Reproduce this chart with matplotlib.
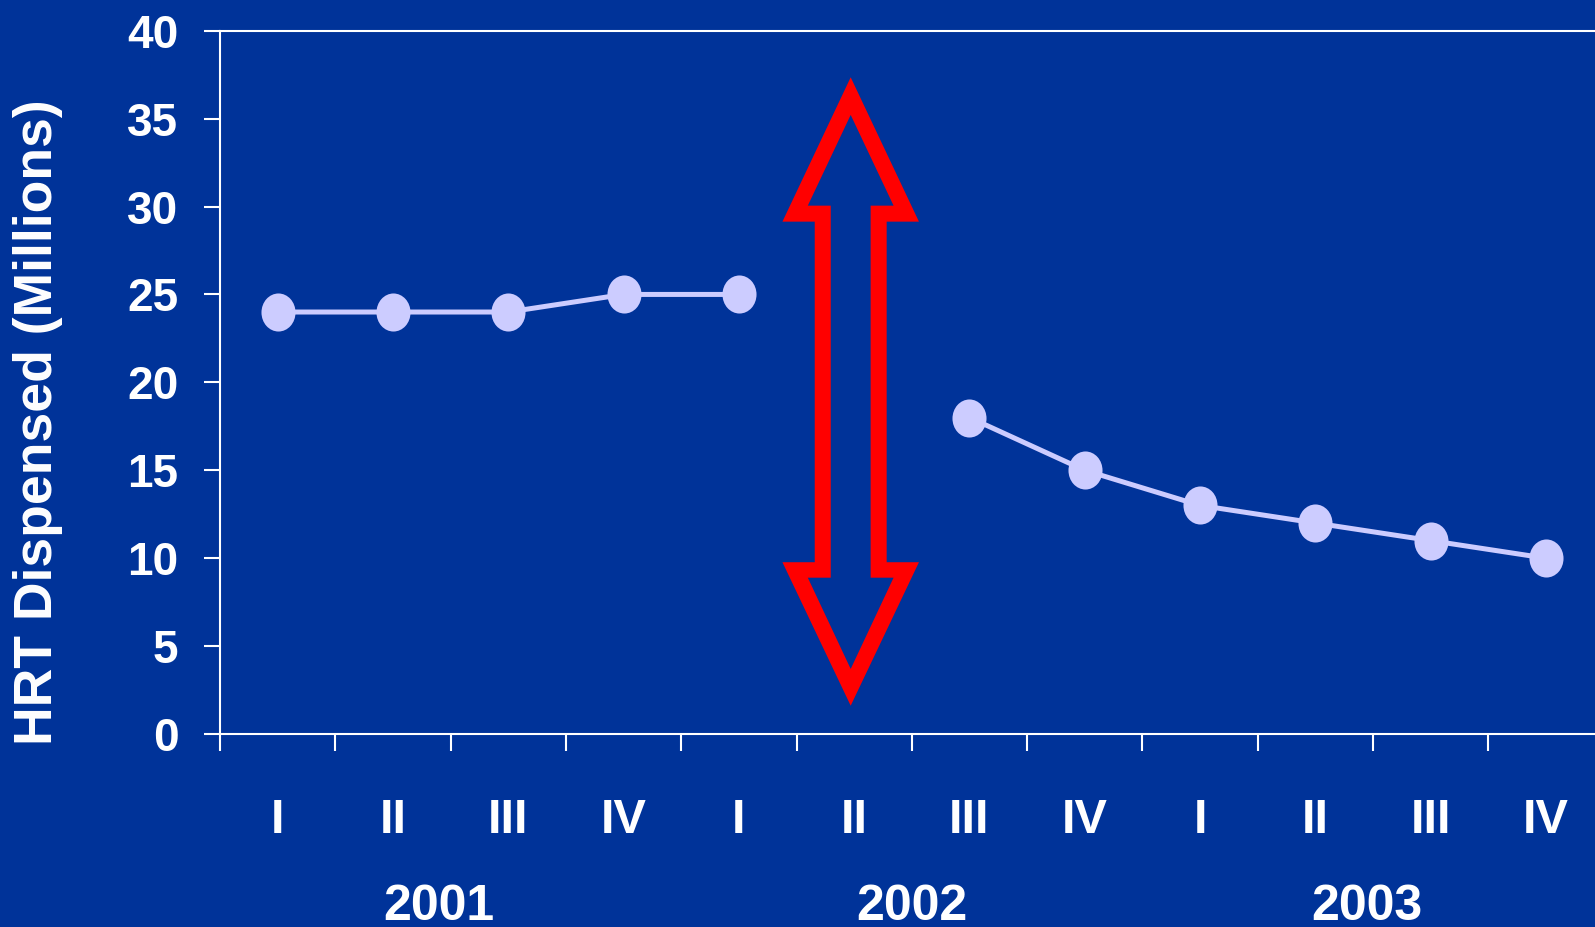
import numpy as np
import matplotlib
matplotlib.use("Agg")
import matplotlib.pyplot as plt
from matplotlib import font_manager
from matplotlib.path import Path
from matplotlib.patches import PathPatch
from matplotlib.transforms import blended_transform_factory

# Quarterly HRT prescriptions dispensed (millions); 2002 Q2 has no point
quarters = ["I", "II", "III", "IV", "I", "II", "III", "IV", "I", "II", "III", "IV"]
years = ["2001", "2002", "2003"]
year_centers = [1.4, 5.5, 9.45]
dispensed = [24, 24, 24, 25, 25, np.nan, 18, 15, 13, 12, 11, 10]
y_ticks = [0, 5, 10, 15, 20, 25, 30, 35, 40]

BG = "#003399"
FG = "white"
POINT = "#CCCCFF"
ARROW = "#FF0000"

names = {f.name for f in font_manager.fontManager.ttflist}
family = "Liberation Sans Narrow" if "Liberation Sans Narrow" in names else "Liberation Sans"
plt.rcParams["font.family"] = [family, "DejaVu Sans"]
plt.rcParams["font.weight"] = "bold"

W, H = 1595, 927
fig = plt.figure(figsize=(W / 100, H / 100), dpi=100, facecolor=BG)

left_px, top_px, bottom_px = 220, 30.7, 734
ax = fig.add_axes([left_px / W, 1 - bottom_px / H, 1 - left_px / W, (bottom_px - top_px) / H])
ax.set_facecolor(BG)

# ellipse marker, slightly taller than wide
circ = Path.unit_circle()
ell = Path(circ.vertices * np.array([34 / 38, 1.0]), circ.codes)

x = np.arange(len(quarters))
ax.plot(x, dispensed, color=POINT, lw=3.6, marker=ell, ms=27.4,
        mfc=POINT, mec="none", solid_joinstyle="round", zorder=3)

# outlined double-headed arrow across the gap
cx = 4.97
outer = [(0, 37.35), (0.592, 29.14), (0.312, 29.14), (0.312, 9.77), (0.592, 9.77),
         (0, 1.61), (-0.592, 9.77), (-0.312, 9.77), (-0.312, 29.14), (-0.592, 29.14)]
inner = [(0, 35.21), (-0.372, 30.05), (-0.173, 30.05), (-0.173, 8.89), (-0.372, 8.89),
         (0, 3.70), (0.372, 8.89), (0.173, 8.89), (0.173, 30.05), (0.372, 30.05)]
verts, codes = [], []
for poly in (outer, inner):
    pts = [(cx + dx, yy) for dx, yy in poly]
    verts += pts + [pts[0]]
    codes += [Path.MOVETO] + [Path.LINETO] * (len(pts) - 1) + [Path.CLOSEPOLY]
ax.add_patch(PathPatch(Path(verts, codes), facecolor=ARROW, edgecolor="none", zorder=4))

# spines and ticks
for side in ("left", "bottom", "top"):
    ax.spines[side].set_color(FG)
    ax.spines[side].set_linewidth(1.5)
ax.spines["right"].set_visible(False)

ax.set_yticks(y_ticks)
ax.set_yticklabels([str(v) for v in y_ticks])
ax.tick_params(axis="y", colors=FG, direction="out", length=11.5, width=1.5,
               pad=18.5, labelsize=33)
for lab in ax.get_yticklabels():
    lab.set_fontweight("bold")

ax.set_xticks(np.arange(-0.5, len(quarters), 1.0))
ax.set_xticklabels([])
ax.tick_params(axis="x", colors=FG, direction="out", length=12, width=1.5)

unit_px = 115.3
ax.set_xlim(-0.5, -0.5 + (W - left_px) / unit_px)
ax.set_ylim(0, 40)

tr = blended_transform_factory(ax.transData, fig.transFigure)
for i, q in enumerate(quarters):
    ax.text(i, 1 - 833 / H, q, transform=tr, ha="center", va="baseline",
            color=FG, fontsize=35, fontweight="bold", clip_on=False)
for xc, yr in zip(year_centers, years):
    ax.text(xc, 1 - 920 / H, yr, transform=tr, ha="center", va="baseline",
            color=FG, fontsize=36, fontweight="bold", clip_on=False)

fig.text(38.5 / W, 1 - 422 / H, "HRT Dispensed (Millions)", rotation=90,
         ha="center", va="center", color=FG, fontsize=38.5, fontweight="bold")

fig.savefig("out.png", dpi=100, facecolor=BG)
